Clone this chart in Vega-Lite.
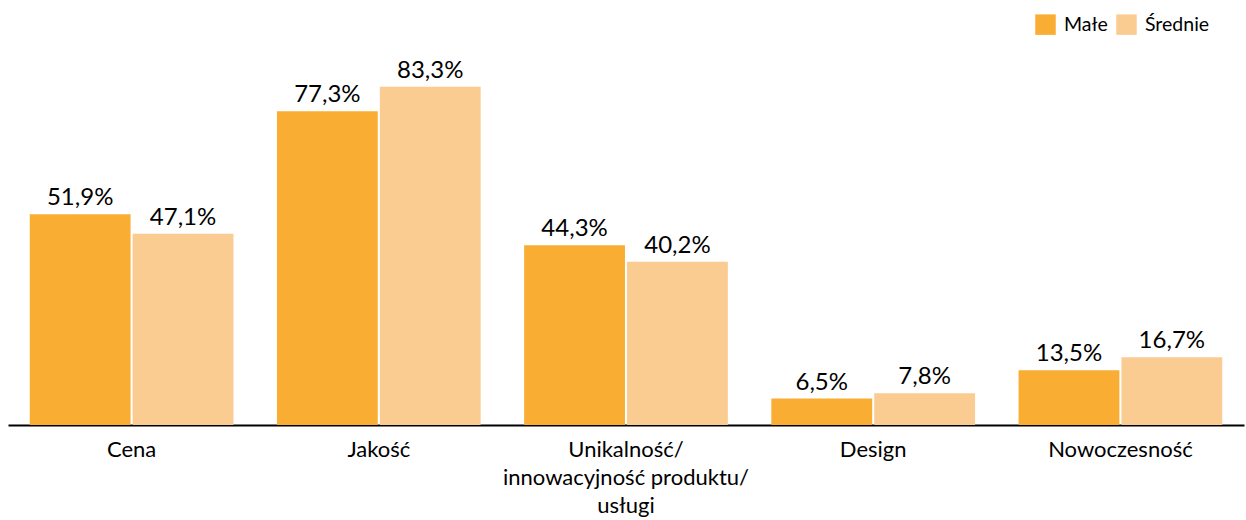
{
  "$schema": "https://vega.github.io/schema/vega-lite/v6.json",
  "width": 1236,
  "height": 406,
  "autosize": {"type": "none"},
  "padding": {"left": 8, "top": 19, "right": 2, "bottom": 95},
  "background": "white",
  "config": {
    "view": {"stroke": null},
    "font": "Lato",
    "locale": {"number": {"decimal": ",", "thousands": " ", "grouping": [3], "currency": ["", "%"]}}
  },
  "data": {
    "values": [
      {"cat": "Cena", "series": "Małe", "value": 51.9},
      {"cat": "Cena", "series": "Średnie", "value": 47.1},
      {"cat": "Jakość", "series": "Małe", "value": 77.3},
      {"cat": "Jakość", "series": "Średnie", "value": 83.3},
      {"cat": "Unikalność/|innowacyjność produktu/|usługi", "series": "Małe", "value": 44.3},
      {"cat": "Unikalność/|innowacyjność produktu/|usługi", "series": "Średnie", "value": 40.2},
      {"cat": "Design", "series": "Małe", "value": 6.5},
      {"cat": "Design", "series": "Średnie", "value": 7.8},
      {"cat": "Nowoczesność", "series": "Małe", "value": 13.5},
      {"cat": "Nowoczesność", "series": "Średnie", "value": 16.7}
    ]
  },
  "encoding": {
    "x": {
      "field": "cat", "type": "nominal", "sort": null,
      "scale": {"paddingInner": 0.176, "paddingOuter": 0.088},
      "axis": {
        "title": null, "labelExpr": "split(datum.value, '|')", "labelAngle": 0,
        "labelFontSize": 22, "labelColor": "#000", "domainColor": "#000", "domainWidth": 2,
        "ticks": false, "labelPadding": 14, "labelLineHeight": 28, "labelBaseline": "top",
        "labelLimit": 500
      }
    },
    "xOffset": {"field": "series", "type": "nominal", "sort": ["Małe", "Średnie"], "scale": {"paddingInner": 0.02, "paddingOuter": 0}},
    "y": {"field": "value", "type": "quantitative", "scale": {"domain": [0, 100]}, "axis": null}
  },
  "layer": [
    {
      "mark": {"type": "bar"},
      "encoding": {
        "color": {
          "field": "series", "type": "nominal",
          "scale": {"domain": ["Małe", "Średnie"], "range": ["#F9AE33", "#FBCC92"]},
          "legend": {
            "title": null, "orient": "none", "legendX": 1027, "legendY": -5,
            "direction": "horizontal", "symbolType": "square", "symbolSize": 420,
            "symbolStrokeWidth": 0, "labelFontSize": 19.5, "labelColor": "#000",
            "columnPadding": 8, "labelOffset": 8, "padding": 0
          }
        }
      }
    },
    {
      "mark": {"type": "text", "baseline": "alphabetic", "dy": -9, "fontSize": 24, "color": "#000"},
      "encoding": {"text": {"field": "value", "type": "quantitative", "format": "$.1f"}}
    }
  ]
}
